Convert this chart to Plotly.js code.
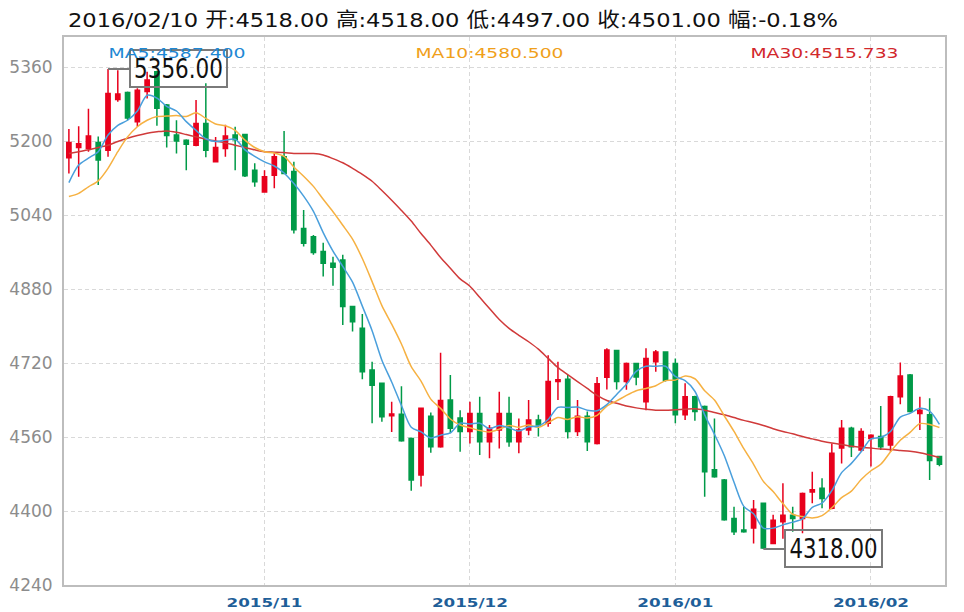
<!DOCTYPE html>
<html>
<head>
<meta charset="utf-8">
<script src="https://cdn.plot.ly/plotly-3.0.1.min.js"></script>
<style>html,body{margin:0;padding:0;background:#fff}#chart{width:964px;height:612px}</style>
</head>
<body>
<div id="chart"></div>
<script>
// ---- data ----
const openP  = [5164,5186,5184,5197,5180,5290,5305,5242,5307,5350,
                5278,5213,5202,5191,5238,5155,5184,5213,5214,5137,
                5090,5126,5166,5134,5011,4993,4961,4936,4943,4842,
                4795,4705,4676,4606,4609,4557,4478,4605,4539,4640,
                4601,4572,4611,4550,4575,4611,4550,4575,4597,4590,
                4680,4685,4572,4605,4546,4689,4747,4680,4719,4636,
                4723,4744,4719,4608,4647,4626,4489,4467,4384,4359,
                4363,4417,4330,4377,4391,4384,4441,4449,4406,4536,
                4579,4532,4557,4561,4543,4647,4694,4611,4608,4518];
const highP  = [5226,5232,5270,5210,5356,5353,5307,5314,5350,5352,
                5280,5245,5204,5289,5325,5209,5235,5231,5216,5152,
                5137,5175,5222,5155,5051,4997,4980,4950,4954,4844,
                4826,4723,4678,4636,4670,4559,4624,4613,4742,4694,
                4618,4636,4647,4586,4658,4647,4600,4640,4608,4737,
                4723,4694,4640,4615,4690,4752,4748,4721,4720,4752,
                4748,4745,4730,4676,4649,4628,4600,4469,4409,4409,
                4424,4418,4392,4460,4409,4440,4485,4471,4546,4597,
                4582,4579,4566,4627,4649,4721,4696,4647,4644,4518];
const lowP   = [5130,5123,5177,5105,5166,5285,5245,5231,5292,5233,
                5186,5173,5137,5189,5165,5154,5166,5137,5122,5101,
                5088,5098,5128,5000,4972,4954,4907,4887,4802,4788,
                4685,4590,4593,4571,4550,4444,4453,4526,4537,4568,
                4528,4546,4521,4514,4535,4539,4525,4564,4561,4582,
                4640,4557,4562,4530,4544,4663,4663,4662,4672,4618,
                4701,4680,4590,4597,4595,4431,4472,4379,4348,4353,
                4330,4318,4328,4340,4355,4352,4417,4406,4404,4503,
                4517,4528,4496,4532,4528,4631,4613,4575,4467,4497];
const closeP = [5197,5194,5211,5159,5303,5302,5250,5310,5332,5271,
                5212,5200,5193,5238,5180,5186,5211,5203,5125,5112,
                5123,5166,5130,5008,4979,4959,4936,4927,4842,4809,
                4701,4672,4604,4610,4552,4467,4622,4539,4639,4579,
                4572,4611,4550,4579,4611,4550,4575,4597,4586,4680,
                4684,4572,4605,4550,4675,4748,4680,4719,4690,4730,
                4744,4683,4608,4647,4615,4485,4474,4381,4355,4355,
                4404,4320,4380,4391,4384,4438,4446,4427,4525,4579,
                4539,4572,4564,4539,4647,4692,4615,4618,4509,4501];
const ma5    = [5110,5148,5163,5177,5213,5234,5245,5265,5299,5293,
                5275,5265,5242,5223,5205,5199,5202,5204,5181,5167,
                5155,5146,5131,5108,5081,5048,5002,4962,4929,4895,
                4843,4790,4726,4679,4628,4581,4571,4558,4564,4569,
                4590,4588,4590,4578,4585,4580,4573,4582,4584,4598,
                4624,4624,4625,4618,4617,4630,4652,4674,4702,4713,
                4713,4713,4691,4682,4659,4608,4566,4520,4462,4410,
                4394,4363,4363,4370,4376,4383,4408,4417,4444,4483,
                4503,4528,4556,4559,4572,4603,4611,4622,4616,4587.4];
const ma10   = [5080,5087,5101,5114,5141,5177,5209,5231,5245,5253,
                5254,5255,5253,5261,5249,5237,5233,5223,5202,5186,
                5177,5174,5167,5144,5124,5102,5074,5047,5018,4988,
                4946,4896,4844,4804,4761,4712,4681,4642,4622,4599,
                4586,4580,4574,4571,4577,4585,4581,4586,4581,4591,
                4602,4598,4604,4601,4607,4627,4638,4650,4660,4665,
                4671,4682,4683,4692,4686,4660,4640,4606,4572,4535,
                4501,4464,4442,4416,4393,4388,4385,4390,4407,4429,
                4443,4468,4487,4501,4528,4553,4570,4589,4587,4580.5];
const ma30   = [5173,5177,5181,5186,5191,5199,5206,5212,5217,5220,
                5222,5219,5214,5209,5204,5200,5196,5191,5186,5181,
                5177,5176,5175,5173,5173,5173,5170,5162,5153,5141,
                5128,5113,5093,5072,5050,5027,5000,4975,4948,4925,
                4902,4886,4862,4838,4814,4795,4780,4766,4750,4730,
                4710,4695,4680,4665,4650,4639,4633,4627,4623,4620,
                4618,4618,4619,4620,4621,4618,4613,4608,4602,4596,
                4591,4585,4578,4572,4567,4561,4556,4551,4547,4544,
                4540,4538,4536,4534,4533,4531,4529,4526,4521,4515.733];
const monthTickPos  = [20, 41, 62, 82];
const monthTickText = ['2015/11', '2015/12', '2016/01', '2016/02'];
const yTickVals     = [4240, 4400, 4560, 4720, 4880, 5040, 5200, 5360];
const headerText    = '2016/02/10 开:4518.00 高:4518.00 低:4497.00 收:4501.00 幅:-0.18%';

// ---- chart ----
const idx = closeP.map((_, i) => i);
const hiVal = Math.max(...highP), hiIdx = highP.indexOf(hiVal);
const loVal = Math.min(...lowP),  loIdx = lowP.indexOf(loVal);

const UP = '#e8001c', DOWN = '#009a48';
const C5 = '#4a9fdc', C10 = '#f6b142', C30 = '#d03a3a';

const traces = [
  {type: 'candlestick', x: idx, open: openP, high: highP, low: lowP, close: closeP,
   increasing: {line: {color: UP, width: 1.5}, fillcolor: UP},
   decreasing: {line: {color: DOWN, width: 1.5}, fillcolor: DOWN},
   whiskerwidth: 0, hoverinfo: 'skip', showlegend: false},
  {type: 'scatter', mode: 'lines', x: idx, y: ma30, line: {color: C30, width: 1.5, shape: 'spline', smoothing: 0.8}, hoverinfo: 'skip', showlegend: false},
  {type: 'scatter', mode: 'lines', x: idx, y: ma10, line: {color: C10, width: 1.5, shape: 'spline', smoothing: 0.8}, hoverinfo: 'skip', showlegend: false},
  {type: 'scatter', mode: 'lines', x: idx, y: ma5,  line: {color: C5,  width: 1.5, shape: 'spline', smoothing: 0.8}, hoverinfo: 'skip', showlegend: false}
];

const L = 64, R = 945, T = 37, B = 585;
const px = X => (X - L) / (R - L);
const py = Y => (B - Y) / (B - T);
const maFont = {family: 'DejaVu Sans', size: 14};
const boxFont = {family: 'DejaVu Sans', size: 27, color: '#111'};

const annotations = [
  {xref: 'x', yref: 'y', x: hiIdx, y: hiVal, text: hiVal.toFixed(2), showarrow: true, arrowhead: 0,
   arrowwidth: 2, arrowcolor: '#7a7a7a', ax: 70, ay: 0, width: 93, height: 33, borderwidth: 2, borderpad: 1,
   bordercolor: '#7a7a7a', bgcolor: 'rgba(0,0,0,0)', font: boxFont},
  {xref: 'x', yref: 'y', x: loIdx, y: loVal, text: loVal.toFixed(2), showarrow: true, arrowhead: 0,
   arrowwidth: 2, arrowcolor: '#7a7a7a', ax: 70, ay: 0, width: 93, height: 33, borderwidth: 2, borderpad: 1,
   bordercolor: '#7a7a7a', bgcolor: 'rgba(0,0,0,0)', font: boxFont},
  {xref: 'paper', yref: 'paper', x: px(176.5), y: py(52.5), xanchor: 'center', yanchor: 'middle', showarrow: false,
   text: 'MA5:' + ma5[ma5.length - 1].toFixed(3), font: Object.assign({color: '#1e88d4'}, maFont)},
  {xref: 'paper', yref: 'paper', x: px(489), y: py(52.5), xanchor: 'center', yanchor: 'middle', showarrow: false,
   text: 'MA10:' + ma10[ma10.length - 1].toFixed(3), font: Object.assign({color: '#f0a01a'}, maFont)},
  {xref: 'paper', yref: 'paper', x: px(824), y: py(52.5), xanchor: 'center', yanchor: 'middle', showarrow: false,
   text: 'MA30:' + ma30[ma30.length - 1].toFixed(3), font: Object.assign({color: '#d2282c'}, maFont)}
];
const annWidths = [89, 88, 137, 148, 148];

const gridStyle = {showgrid: true, gridcolor: '#d9d9d9', griddash: '4px,3px', gridwidth: 1,
  showline: true, mirror: true, linecolor: '#bdbdbd', linewidth: 2, zeroline: false, ticks: '', fixedrange: true};

const layout = {
  width: 964, height: 612,
  margin: {l: L, r: 964 - R, t: T, b: 612 - B, pad: 0},
  paper_bgcolor: '#fff', plot_bgcolor: '#fff',
  showlegend: false, hovermode: false, boxgap: 0.38,
  title: {text: headerText, xref: 'container', yref: 'container', x: 453 / 964, xanchor: 'center',
          y: 1 - 20 / 612, yanchor: 'middle',
          font: {family: 'DejaVu Sans, Noto Sans CJK SC', size: 20, color: '#111'}},
  xaxis: Object.assign({}, gridStyle, {range: [-0.5, 89.57], tickmode: 'array', tickvals: monthTickPos,
          ticktext: monthTickText, rangeslider: {visible: false}, ticklabelstandoff: 4,
          tickfont: {family: 'DejaVu Sans', size: 13, color: '#1f5f99', weight: 'bold'}}),
  yaxis: Object.assign({}, gridStyle, {range: [4240, 5425], tickmode: 'array', tickvals: yTickVals,
          ticktext: yTickVals.map(v => String(v)), ticklabelstandoff: 6,
          tickfont: {family: 'DejaVu Sans', size: 17, color: '#8c8c8c'}}),
  annotations: annotations
};

function stretch(el, w) {
  if (!el) return;
  el.setAttribute('textLength', w);
  el.setAttribute('lengthAdjust', 'spacingAndGlyphs');
}

Plotly.newPlot('chart', traces, layout, {staticPlot: true, displayModeBar: false}).then(gd => {
  stretch(gd.querySelector('.gtitle'), 770);
  gd.querySelectorAll('.xtick text').forEach(t => stretch(t, 76));
  gd.querySelectorAll('.annotation-text').forEach((t, i) => stretch(t, annWidths[i]));
});
</script>
</body>
</html>
